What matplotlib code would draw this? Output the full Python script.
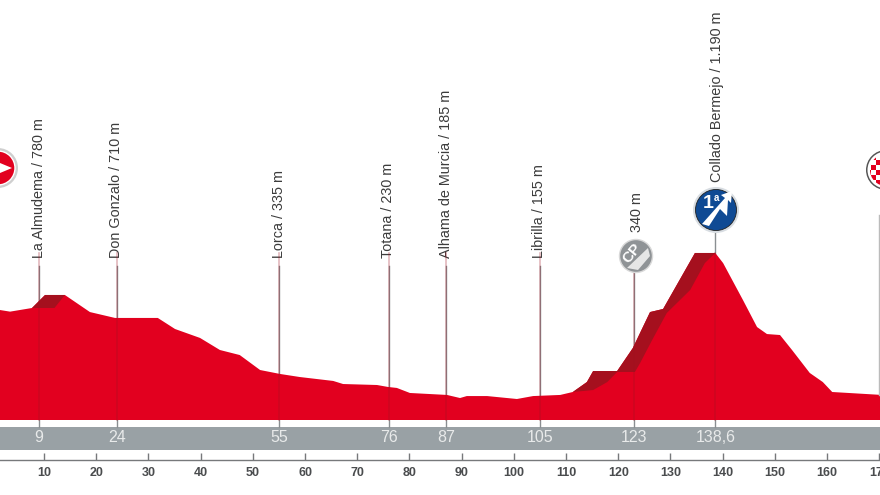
import numpy as np
import matplotlib
matplotlib.use('Agg')
import matplotlib.pyplot as plt
from matplotlib.patches import Circle, Polygon

plt.rcParams['font.family'] = ['Liberation Sans', 'DejaVu Sans']

# profile of the stage, km / metres
km = [1.5, 3.5, 7.7, 10.2, 14, 18.8, 23.6, 31.8, 35.1, 39.9, 43.7, 47.5, 51.4, 55.2, 59,
      65.4, 67.3, 73.8, 75.9, 77.6, 80.1, 87.2, 89.7, 91, 94.9, 100.6, 103.7, 108.9,
      111.3, 114, 115.2, 119.8, 122.8, 126.1, 128.6, 134.7, 138.6, 140.1, 143.9, 146.6,
      148.5, 151, 153.3, 156.7, 159.2, 161, 170.5]
alt = [786, 774, 800, 893, 893, 771, 729, 729, 650, 586, 500, 464, 357, 329, 307,
       279, 257, 250, 236, 229, 193, 179, 157, 171, 171, 150, 171, 179,
       200, 271, 350, 350, 514, 771, 793, 1193, 1193, 1121, 857, 664,
       614, 607, 500, 336, 271, 200, 179]

# lower edges of the dark climb shading
climb1_km = [7.7, 12, 14]
climb1_alt = [800, 800, 893]
climb2_km = [111.3, 115.2, 117.9, 119.8, 123.2, 124.2, 126.5, 129.3, 133.8, 136.6, 138.6]
climb2_alt = [200, 214, 271, 343, 343, 407, 571, 764, 929, 1121, 1193]

places = ['La Almudema / 780 m', 'Don Gonzalo / 710 m', 'Lorca / 335 m', 'Totana / 230 m',
          'Alhama de Murcia / 185 m', 'Librilla / 155 m', '340 m', 'Collado Bermejo / 1.190 m']
place_km = [9, 24, 55, 76, 87, 105, 123, 138.6]
place_lbl = ['9', '24', '55', '76', '87', '105', '123', '138,6']
ticks = list(range(10, 180, 10))

RED = '#e2001f'
DARK = '#a5101e'
GREY = '#99a1a5'
LINE = '#8a8f92'

PX_KM = 5.22
X0 = 8.2
PX_M = 0.14


def to_m(py):
    return (420 - py) / PX_M


fig = plt.figure(figsize=(8.8, 4.95), dpi=100)
ax = fig.add_axes([0, 0, 1, 1])
ax.set_xlim(X0 / PX_KM, (880 + X0) / PX_KM)
ax.set_ylim(to_m(495), to_m(0))

ax.fill_between(km, 0, alt, color=RED, lw=0, zorder=2)
km_a, alt_a = np.array(km), np.array(alt)
for ck, ca in [(climb1_km, climb1_alt), (climb2_km, climb2_alt)]:
    m = (km_a >= ck[0]) & (km_a <= ck[-1])
    ax.fill(list(km_a[m]) + ck[::-1], list(alt_a[m]) + ca[::-1], color=DARK, lw=0, zorder=3)

# km band
ax.axhspan(to_m(450), to_m(427), color=GREY, lw=0, zorder=1)

tops = [266, 266, 266, 266, 266, 266, 270, 232]
for k, t, lab in zip(place_km, tops, place_lbl):
    ax.plot([k, k], [to_m(t), to_m(427)], color=LINE, lw=1, zorder=1.5)
    ax.plot([k, k], [0, to_m(253)], color='#a01020', lw=1.2, alpha=0.3, zorder=4)
    ax.text(k, to_m(438), lab, color='#e8eaea', fontsize=11.5, ha='center', va='center', zorder=5)
ax.text(170.3, to_m(438), '170', color='#e8eaea', fontsize=11.5, ha='left', va='center', zorder=5)

bottoms = [258, 258, 258, 258, 258, 258, 232, 182]
label_x = [39, 116, 279, 388, 446, 539, 637, 717]
for name, b, px in zip(places, bottoms, label_x):
    ax.text((px + X0) / PX_KM, to_m(b), name, rotation=90, ha='center', va='bottom',
            fontsize=10.4, color='#3c3c3c')

# km axis
for s in ['top', 'left', 'right']:
    ax.spines[s].set_visible(False)
ax.spines['bottom'].set_position(('data', to_m(460)))
ax.spines['bottom'].set_color('#77797b')
ax.spines['bottom'].set_linewidth(1)
ax.set_yticks([])
ax.set_xticks(ticks)
ax.tick_params(axis='x', direction='in', length=5, width=1, color='#77797b', pad=5,
               labelsize=9, labelcolor='#4a4c4e')
for t in ax.get_xticklabels():
    t.set_fontweight('bold')

# icons, in pixel coordinates
ov = fig.add_axes([0, 0, 1, 1])
ov.set_xlim(0, 880)
ov.set_ylim(495, 0)
ov.axis('off')
ov.set_aspect('equal')
ov.patch.set_alpha(0)

ov.plot([879.5, 879.5], [215, 395], color='#bbbbbb', lw=1)

# start
ov.add_patch(Circle((-2, 168), 20, fc='#cfcfcf', ec='none'))
ov.add_patch(Circle((-2, 168), 17, fc=RED, ec='white', lw=1))
ov.add_patch(Polygon([(0, 163), (12, 168), (0, 173)], fc='white', ec='none'))

# finish, chequered
ov.add_patch(Circle((886, 170), 20, fc='#555555', ec='none'))
ov.add_patch(Circle((886, 170), 18.5, fc='white', ec='none'))
clip = Circle((886, 170), 16, transform=ov.transData)
for i in range(-4, 5):
    for j in range(-4, 5):
        if (i + j) % 2 == 0:
            sq = plt.Rectangle((886 + i * 5, 170 + j * 5), 5, 5, fc=RED, ec='none')
            ov.add_patch(sq)
            sq.set_clip_path(clip)

# intermediate sprint
ov.add_patch(Circle((636, 256), 16.5, fc='#8f9396', ec='#d8d8d8', lw=1))
ov.add_patch(Polygon([(627, 268), (648, 248), (650, 256), (638, 270)], fc='#e6e6e6', ec='none'))
ov.text(632, 253, 'CP', color='white', fontsize=11, fontweight='bold', rotation=50,
        ha='center', va='center')

# category climb
ov.add_patch(Circle((716, 210), 23, fc='#d8dde2', ec='none'))
ov.add_patch(Circle((716, 210), 20.5, fc='#0f4a94', ec='#222222', lw=0.6))
ov.add_patch(Polygon([(702, 224), (725, 198), (721, 195), (732, 191), (731, 203), (728, 200),
                      (727, 216), (720, 209), (709, 226)], fc='white', ec='none'))
ov.text(708, 203, '1', color='white', fontsize=14, fontweight='bold', ha='center', va='center')
ov.text(716, 198, 'a', color='white', fontsize=7, fontweight='bold', ha='center', va='center')

fig.savefig('out.png', dpi=100)
